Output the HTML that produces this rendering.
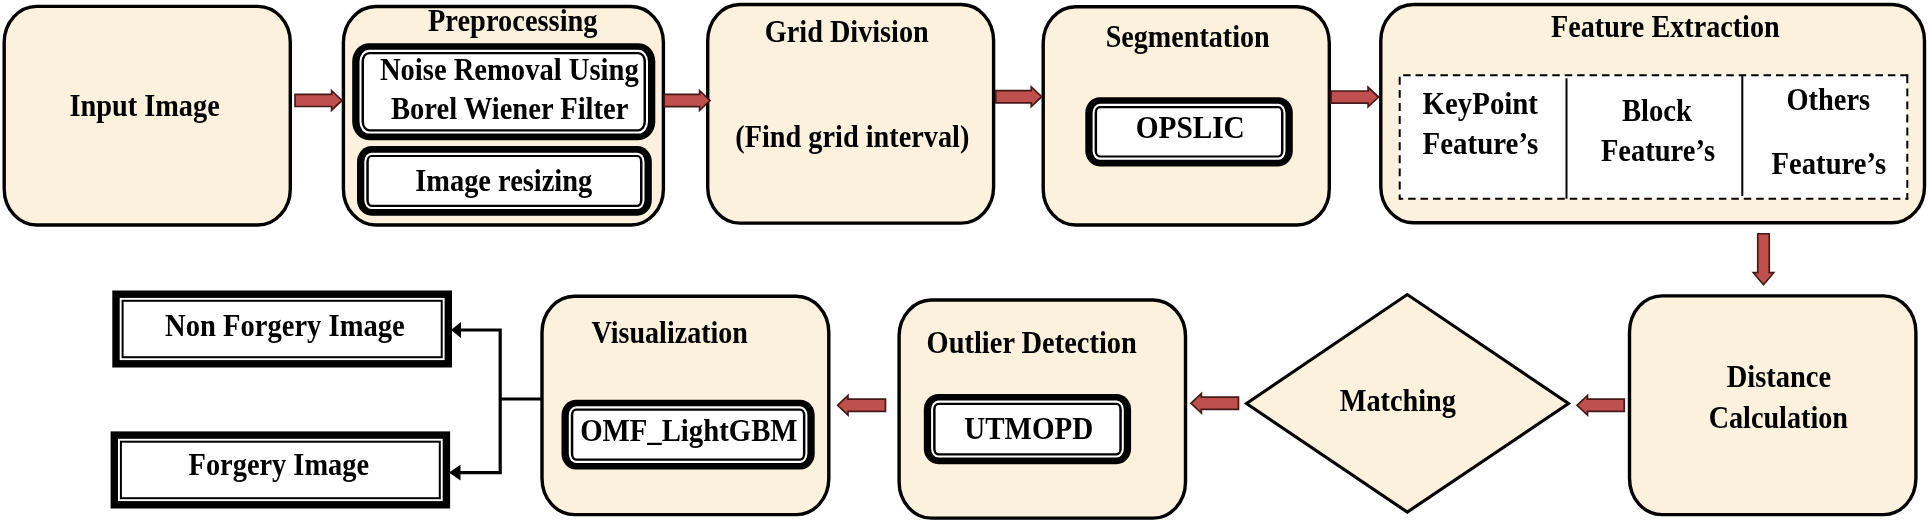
<!DOCTYPE html>
<html lang="en"><head><meta charset="utf-8"><title>Flow diagram</title>
<style>html,body{margin:0;padding:0;background:#fff;}svg{display:block;filter:blur(0.4px);}text{white-space:pre;}</style>
</head><body>
<svg width="1930" height="524" viewBox="0 0 1930 524">
<rect width="1930" height="524" fill="#fff"/>
<rect x="4.20" y="6.40" width="286.10" height="218.60" rx="32.5" ry="36.1" fill="#FCF1DD" stroke="#000" stroke-width="3.4"/>
<rect x="343.40" y="6.50" width="320.00" height="218.50" rx="32.5" ry="36.1" fill="#FCF1DD" stroke="#000" stroke-width="3.4"/>
<rect x="707.70" y="4.50" width="285.90" height="218.60" rx="32.5" ry="36.1" fill="#FCF1DD" stroke="#000" stroke-width="3.4"/>
<rect x="1043.20" y="6.70" width="286.10" height="218.30" rx="32.5" ry="36.1" fill="#FCF1DD" stroke="#000" stroke-width="3.4"/>
<rect x="1380.80" y="4.50" width="543.70" height="218.30" rx="32.5" ry="36.1" fill="#FCF1DD" stroke="#000" stroke-width="3.4"/>
<rect x="1629.50" y="295.90" width="286.40" height="218.70" rx="32.5" ry="36.1" fill="#FCF1DD" stroke="#000" stroke-width="3.4"/>
<rect x="899.10" y="300.00" width="286.40" height="218.10" rx="32.5" ry="36.1" fill="#FCF1DD" stroke="#000" stroke-width="3.4"/>
<rect x="542.00" y="296.20" width="286.80" height="218.40" rx="32.5" ry="36.1" fill="#FCF1DD" stroke="#000" stroke-width="3.4"/>
<path d="M1246.5,403.5 L1407.3,294.5 L1568.5,403.5 L1407.3,512.1 Z" fill="#FCF1DD" stroke="#000" stroke-width="3.1" stroke-linejoin="miter"/>
<rect x="352.20" y="43.20" width="303.10" height="97.00" rx="17.00" ry="18.36" fill="#000"/><rect x="359.50" y="49.80" width="288.50" height="83.80" rx="9.70" ry="11.76" fill="#fff"/><rect x="361.50" y="52.00" width="284.50" height="79.40" rx="7.70" ry="9.56" fill="#000"/><rect x="364.00" y="54.20" width="279.50" height="75.00" rx="5.20" ry="7.36" fill="#fff"/>
<rect x="357.00" y="146.10" width="294.80" height="69.60" rx="14.50" ry="15.66" fill="#000"/><rect x="364.30" y="152.70" width="280.20" height="56.40" rx="7.20" ry="9.06" fill="#fff"/><rect x="366.30" y="154.90" width="276.20" height="52.00" rx="5.20" ry="6.86" fill="#000"/><rect x="368.80" y="157.10" width="271.20" height="47.60" rx="2.70" ry="4.66" fill="#fff"/>
<rect x="1085.30" y="97.20" width="207.50" height="69.20" rx="14.50" ry="15.66" fill="#000"/><rect x="1092.60" y="103.80" width="192.90" height="56.00" rx="7.20" ry="9.06" fill="#fff"/><rect x="1094.60" y="106.00" width="188.90" height="51.60" rx="5.20" ry="6.86" fill="#000"/><rect x="1097.10" y="108.20" width="183.90" height="47.20" rx="2.70" ry="4.66" fill="#fff"/>
<rect x="923.80" y="393.90" width="207.30" height="70.30" rx="14.50" ry="15.66" fill="#000"/><rect x="931.10" y="400.50" width="192.70" height="57.10" rx="7.20" ry="9.06" fill="#fff"/><rect x="933.10" y="402.70" width="188.70" height="52.70" rx="5.20" ry="6.86" fill="#000"/><rect x="935.60" y="404.90" width="183.70" height="48.30" rx="2.70" ry="4.66" fill="#fff"/>
<rect x="561.50" y="399.70" width="253.20" height="69.80" rx="14.50" ry="15.66" fill="#000"/><rect x="568.80" y="406.30" width="238.60" height="56.60" rx="7.20" ry="9.06" fill="#fff"/><rect x="570.80" y="408.50" width="234.60" height="52.20" rx="5.20" ry="6.86" fill="#000"/><rect x="573.30" y="410.70" width="229.60" height="47.80" rx="2.70" ry="4.66" fill="#fff"/>
<rect x="112.30" y="290.50" width="339.70" height="77.00" rx="0.00" ry="0.00" fill="#000"/><rect x="119.70" y="297.90" width="324.90" height="62.20" rx="0.00" ry="0.00" fill="#fff"/><rect x="121.60" y="299.80" width="321.10" height="58.40" rx="0.00" ry="0.00" fill="#000"/><rect x="123.60" y="301.80" width="317.10" height="54.40" rx="0.00" ry="0.00" fill="#fff"/>
<rect x="110.60" y="431.40" width="339.50" height="77.10" rx="0.00" ry="0.00" fill="#000"/><rect x="118.00" y="438.80" width="324.70" height="62.30" rx="0.00" ry="0.00" fill="#fff"/><rect x="119.90" y="440.70" width="320.90" height="58.50" rx="0.00" ry="0.00" fill="#000"/><rect x="121.90" y="442.70" width="316.90" height="54.50" rx="0.00" ry="0.00" fill="#fff"/>
<rect x="1399.7" y="75.3" width="507.6" height="123.5" fill="#fff"/>
<line x1="1907.3" y1="75.3" x2="1907.3" y2="198.8" stroke="#000" stroke-width="2" stroke-dasharray="7.89 5.19" stroke-dashoffset="0.00"/>
<line x1="1907.3" y1="198.8" x2="1399.7" y2="198.8" stroke="#000" stroke-width="2" stroke-dasharray="7.50 4.93" stroke-dashoffset="5.53"/>
<line x1="1399.7" y1="198.8" x2="1399.7" y2="75.3" stroke="#000" stroke-width="2" stroke-dasharray="7.89 5.19" stroke-dashoffset="3.68"/>
<line x1="1399.7" y1="75.3" x2="1907.3" y2="75.3" stroke="#000" stroke-width="2" stroke-dasharray="7.50 4.93" stroke-dashoffset="9.02"/>
<path d="M1906.3,74.3 h2 v2 h-2 Z M1906.3,197.8 h2 v2 h-2 Z M1398.7,197.8 h2 v2 h-2 Z" fill="#000"/>
<line x1="1566.5" y1="78.3" x2="1566.5" y2="198.8" stroke="#000" stroke-width="2"/>
<line x1="1742.3" y1="75" x2="1742.3" y2="196" stroke="#000" stroke-width="2"/>
<path d="M295.05,94.30 L331.60,94.30 L331.60,90.60 L342.00,100.40 L331.60,110.20 L331.60,106.50 L295.05,106.50 Z" fill="#C0504D" stroke="#451918" stroke-width="1.7" stroke-linejoin="miter"/>
<path d="M664.25,94.40 L699.60,94.40 L699.60,90.70 L710.00,100.50 L699.60,110.30 L699.60,106.60 L664.25,106.60 Z" fill="#C0504D" stroke="#451918" stroke-width="1.7" stroke-linejoin="miter"/>
<path d="M995.75,90.60 L1031.30,90.60 L1031.30,86.90 L1041.70,96.70 L1031.30,106.50 L1031.30,102.80 L995.75,102.80 Z" fill="#C0504D" stroke="#451918" stroke-width="1.7" stroke-linejoin="miter"/>
<path d="M1331.05,91.00 L1368.10,91.00 L1368.10,87.30 L1378.50,97.10 L1368.10,106.90 L1368.10,103.20 L1331.05,103.20 Z" fill="#C0504D" stroke="#451918" stroke-width="1.7" stroke-linejoin="miter"/>
<path d="M1757.75,233.75 L1757.75,272.70 L1753.30,272.70 L1763.50,284.70 L1773.70,272.70 L1769.25,272.70 L1769.25,233.75 Z" fill="#C0504D" stroke="#451918" stroke-width="1.7" stroke-linejoin="miter"/>
<path d="M1624.25,399.20 L1587.50,399.20 L1587.50,395.50 L1577.10,405.30 L1587.50,415.10 L1587.50,411.40 L1624.25,411.40 Z" fill="#C0504D" stroke="#451918" stroke-width="1.7" stroke-linejoin="miter"/>
<path d="M1238.45,397.20 L1201.40,397.20 L1201.40,393.50 L1191.00,403.30 L1201.40,413.10 L1201.40,409.40 L1238.45,409.40 Z" fill="#C0504D" stroke="#451918" stroke-width="1.7" stroke-linejoin="miter"/>
<path d="M885.45,399.20 L848.00,399.20 L848.00,395.50 L837.60,405.30 L848.00,415.10 L848.00,411.40 L885.45,411.40 Z" fill="#C0504D" stroke="#451918" stroke-width="1.7" stroke-linejoin="miter"/>
<path d="M459,330 L500.2,330 L500.2,472.6 L459,472.6 M500.2,399 L542,399" fill="none" stroke="#000" stroke-width="3.2" stroke-linejoin="miter"/>
<path d="M450.9,330 L461.0,322.1 L461.0,337.9 Z M449.0,472.6 L460.5,464.7 L460.5,480.5 Z" fill="#000"/>
<g font-family="'Liberation Serif', serif" font-weight="bold" font-size="30.5" fill="#000">
<text x="69.4" y="115.5" textLength="150.4" lengthAdjust="spacingAndGlyphs">Input Image</text>
<text x="428.0" y="31.0" textLength="169.6" lengthAdjust="spacingAndGlyphs">Preprocessing</text>
<text x="379.9" y="80.0" textLength="258.8" lengthAdjust="spacingAndGlyphs">Noise Removal Using</text>
<text x="391.0" y="119.4" textLength="237.4" lengthAdjust="spacingAndGlyphs">Borel Wiener Filter</text>
<text x="415.2" y="190.8" textLength="177.1" lengthAdjust="spacingAndGlyphs">Image resizing</text>
<text x="764.8" y="42.0" textLength="164.0" lengthAdjust="spacingAndGlyphs">Grid Division</text>
<text x="735.3" y="147.1" textLength="234.1" lengthAdjust="spacingAndGlyphs">(Find grid interval)</text>
<text x="1105.7" y="47.2" textLength="164.0" lengthAdjust="spacingAndGlyphs">Segmentation</text>
<text x="1135.7" y="138.2" textLength="109.1" lengthAdjust="spacingAndGlyphs">OPSLIC</text>
<text x="1551.0" y="36.5" textLength="228.7" lengthAdjust="spacingAndGlyphs">Feature Extraction</text>
<text x="1422.6" y="113.9" textLength="115.4" lengthAdjust="spacingAndGlyphs">KeyPoint</text>
<text x="1422.6" y="153.5" textLength="115.6" lengthAdjust="spacingAndGlyphs">Feature’s</text>
<text x="1622.0" y="121.1" textLength="70.0" lengthAdjust="spacingAndGlyphs">Block</text>
<text x="1600.9" y="160.7" textLength="114.1" lengthAdjust="spacingAndGlyphs">Feature’s</text>
<text x="1786.4" y="110.2" textLength="83.8" lengthAdjust="spacingAndGlyphs">Others</text>
<text x="1771.6" y="173.8" textLength="114.5" lengthAdjust="spacingAndGlyphs">Feature’s</text>
<text x="1726.7" y="386.6" textLength="104.4" lengthAdjust="spacingAndGlyphs">Distance</text>
<text x="1708.7" y="427.5" textLength="139.3" lengthAdjust="spacingAndGlyphs">Calculation</text>
<text x="1339.7" y="411.0" textLength="116.3" lengthAdjust="spacingAndGlyphs">Matching</text>
<text x="926.6" y="352.5" textLength="210.2" lengthAdjust="spacingAndGlyphs">Outlier Detection</text>
<text x="964.3" y="438.9" textLength="129.0" lengthAdjust="spacingAndGlyphs">UTMOPD</text>
<text x="591.6" y="342.7" textLength="156.3" lengthAdjust="spacingAndGlyphs">Visualization</text>
<text x="580.2" y="440.6" textLength="217.3" lengthAdjust="spacingAndGlyphs">OMF_LightGBM</text>
<text x="165.1" y="335.7" textLength="239.6" lengthAdjust="spacingAndGlyphs">Non Forgery Image</text>
<text x="188.6" y="474.7" textLength="180.4" lengthAdjust="spacingAndGlyphs">Forgery Image</text>
</g>
</svg>
</body></html>
